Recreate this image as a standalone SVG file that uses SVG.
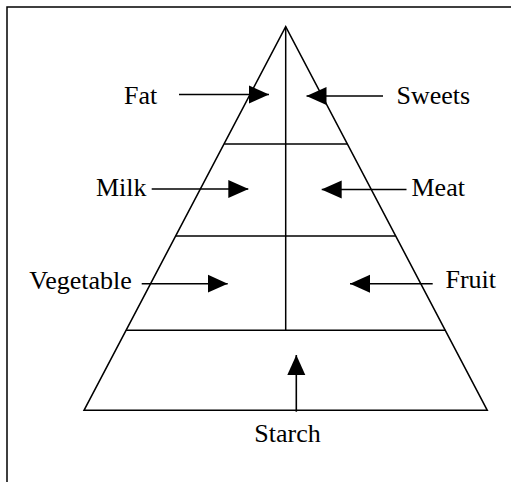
<svg xmlns="http://www.w3.org/2000/svg" width="511" height="482" viewBox="0 0 511 482">
<style>
.ln{stroke:#000;stroke-width:1.5;fill:none}
.lbl{font-family:"Liberation Serif","Times New Roman",serif;font-size:26px;fill:#000}
.arr{stroke:#000;stroke-width:1.6;fill:none;marker-end:url(#ah)}
</style>
<defs>
<marker id="ah" markerUnits="userSpaceOnUse" markerWidth="20" markerHeight="20" refX="20" refY="9" orient="auto" viewBox="0 0 20 18">
<path d="M0,0 L20,9 L0,18 z" fill="#000"/>
</marker>
</defs>
<rect x="0" y="0" width="511" height="482" fill="#fff"/>
<rect x="7" y="7" width="530" height="520" class="ln"/>
<g id="pyramid">
<polygon points="285.7,26.7 84,410.3 487.3,410.3" class="ln"/>
<line x1="285.7" y1="26.7" x2="285.7" y2="330.3" class="ln"/>
<line x1="224.2" y1="144" x2="347.2" y2="144" class="ln"/>
<line x1="175.7" y1="236" x2="395.7" y2="236" class="ln"/>
<line x1="126.1" y1="330.3" x2="445.3" y2="330.3" class="ln"/>
</g>
<g id="fat"><text class="lbl" x="124" y="104">Fat</text></g>
<g id="sweets"><text class="lbl" x="396.5" y="104">Sweets</text></g>
<g id="milk"><text class="lbl" x="96" y="196">Milk</text></g>
<g id="meat"><text class="lbl" x="411.5" y="196">Meat</text></g>
<g id="vegetable"><text class="lbl" x="29.3" y="288.5">Vegetable</text></g>
<g id="fruit"><text class="lbl" x="445.5" y="288">Fruit</text></g>
<g id="starch"><text class="lbl" x="254.3" y="441.7">Starch</text></g>
<g id="connectors">
<line class="arr" x1="179" y1="94.5" x2="269" y2="94.5"/>
<line class="arr" x1="383" y1="96" x2="306.5" y2="96"/>
<line class="arr" x1="151.7" y1="189" x2="248.3" y2="189"/>
<line class="arr" x1="406.5" y1="189.5" x2="321.7" y2="189.5"/>
<line class="arr" x1="141.7" y1="283.7" x2="227.7" y2="283.7"/>
<line class="arr" x1="432.7" y1="283.7" x2="350" y2="283.7"/>
<line class="arr" x1="296.3" y1="411.7" x2="296.3" y2="355"/>
</g>
</svg>
